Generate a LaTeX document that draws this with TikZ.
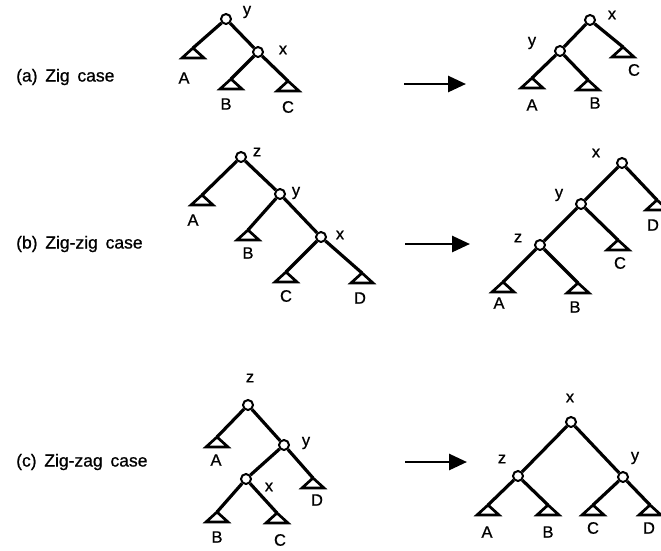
\documentclass[tikz,border=0pt]{standalone}
\usepackage{fontspec}
\setmainfont{Liberation Sans}
\newfontfamily\labfont[AutoFakeBold=0.8]{Liberation Sans}
\usetikzlibrary{arrows.meta}
\tikzset{
  vert/.style={circle,draw,line width=2pt,minimum size=10pt,inner sep=0pt,fill=white},
  edge/.style={line width=3.2pt},
  tri/.style={line width=2.7pt,line join=miter},
  lab/.style={font=\labfont\bfseries\fontsize{16.5}{16.5}\selectfont,inner sep=0pt},
  caselab/.style={font=\labfont\bfseries\fontsize{17.5}{17.5}\selectfont,anchor=west,inner sep=0pt},
  bigarrow/.style={line width=2.8pt,-{Triangle[length=18pt,width=16pt]}}
}
\newcommand{\subtree}[3]{% name, x, y
  \coordinate (#1) at (#2,#3);
  \draw[tri] (#1) -- ++(-11,10) -- ++(22,0) -- cycle;}
\begin{document}
\begin{tikzpicture}[x=1pt,y=-1pt]
\useasboundingbox (0,0) rectangle (661,550);
% ---------- (a) ----------
\node[caselab] (la) at (16,77) {(a)\, Zig\, case};
\subtree{aA}{193}{48}\subtree{aB}{231}{79}\subtree{aC}{288}{81}
\node[vert] (ay) at (226,19) {};
\node[vert] (ax) at (258,52) {};
\draw[edge] (ay) -- (aA); \draw[edge] (ay) -- (ax);
\draw[edge] (ax) -- (aB); \draw[edge] (ax) -- (aC);
\node[lab] (tay) at (247,12) {y};
\node[lab] (tax) at (283,50) {x};
\node[lab] (taA) at (184,78) {A};
\node[lab] (taB) at (226,104) {B};
\node[lab] (taC) at (288,107) {C};
\coordinate (aa1) at (404,84); \coordinate (aa2) at (466,84);
\draw[bigarrow] (aa1) -- (aa2);
\subtree{rA}{532}{78}\subtree{rB}{588}{80}\subtree{rC}{623}{47}
\node[vert] (rx) at (590,20) {};
\node[vert] (ry) at (560,51) {};
\draw[edge] (rx) -- (ry); \draw[edge] (rx) -- (rC);
\draw[edge] (ry) -- (rA); \draw[edge] (ry) -- (rB);
\node[lab] (trx) at (612,15) {x};
\node[lab] (try) at (532,43) {y};
\node[lab] (trA) at (532,105) {A};
\node[lab] (trB) at (595,103) {B};
\node[lab] (trC) at (634,70) {C};
% ---------- (b) ----------
\node[caselab] (lb) at (16,244) {(b)\, Zig-zig\, case};
\subtree{bA}{202}{195}\subtree{bB}{248}{230}\subtree{bC}{286}{272}\subtree{bD}{362}{273}
\node[vert] (bz) at (241,157) {};
\node[vert] (by) at (280,194) {};
\node[vert] (bx) at (321,237) {};
\draw[edge] (bz) -- (bA); \draw[edge] (bz) -- (by);
\draw[edge] (by) -- (bB); \draw[edge] (by) -- (bx);
\draw[edge] (bx) -- (bC); \draw[edge] (bx) -- (bD);
\node[lab] (tbz) at (257,152) {z};
\node[lab] (tby) at (296,193) {y};
\node[lab] (tbx) at (340,235) {x};
\node[lab] (tbA) at (193,220) {A};
\node[lab] (tbB) at (248,253) {B};
\node[lab] (tbC) at (286,296) {C};
\node[lab] (tbD) at (360,298) {D};
\coordinate (ba1) at (405,244); \coordinate (ba2) at (470,244);
\draw[bigarrow] (ba1) -- (ba2);
\subtree{sA}{503}{282}\subtree{sB}{578}{283}\subtree{sC}{618}{240}\subtree{sD}{657}{200}
\node[vert] (sx) at (622,163) {};
\node[vert] (sy) at (581,204) {};
\node[vert] (sz) at (540,245) {};
\draw[edge] (sx) -- (sy); \draw[edge] (sx) -- (sD);
\draw[edge] (sy) -- (sz); \draw[edge] (sy) -- (sC);
\draw[edge] (sz) -- (sA); \draw[edge] (sz) -- (sB);
\node[lab] (tsx) at (596,153) {x};
\node[lab] (tsy) at (559,195) {y};
\node[lab] (tsz) at (518,238) {z};
\node[lab] (tsA) at (499,303) {A};
\node[lab] (tsB) at (575,307) {B};
\node[lab] (tsC) at (620,263) {C};
\node[lab] (tsD) at (653,225) {D};
% ---------- (c) ----------
\node[caselab] (lc) at (16,462) {(c)\, Zig-zag\, case};
\subtree{cA}{217}{437}\subtree{cB}{217}{512}\subtree{cC}{277}{513}\subtree{cD}{313}{478}
\node[vert] (cz) at (248,405) {};
\node[vert] (cy) at (284,445) {};
\node[vert] (cx) at (246,479) {};
\draw[edge] (cz) -- (cA); \draw[edge] (cz) -- (cy);
\draw[edge] (cy) -- (cx); \draw[edge] (cy) -- (cD);
\draw[edge] (cx) -- (cB); \draw[edge] (cx) -- (cC);
\node[lab] (tcz) at (250,378) {z};
\node[lab] (tcy) at (306,443) {y};
\node[lab] (tcx) at (269,487) {x};
\node[lab] (tcA) at (216,460) {A};
\node[lab] (tcB) at (217,537) {B};
\node[lab] (tcC) at (280,540) {C};
\node[lab] (tcD) at (317,500) {D};
\coordinate (ca1) at (405,462); \coordinate (ca2) at (467,462);
\draw[bigarrow] (ca1) -- (ca2);
\subtree{uA}{488}{505}\subtree{uB}{548}{505}\subtree{uC}{593}{505}\subtree{uD}{650}{505}
\node[vert] (ux) at (571,422) {};
\node[vert] (uz) at (518,476) {};
\node[vert] (uy) at (623,477) {};
\draw[edge] (ux) -- (uz); \draw[edge] (ux) -- (uy);
\draw[edge] (uz) -- (uA); \draw[edge] (uz) -- (uB);
\draw[edge] (uy) -- (uC); \draw[edge] (uy) -- (uD);
\node[lab] (tux) at (570,398) {x};
\node[lab] (tuz) at (502,459) {z};
\node[lab] (tuy) at (635,458) {y};
\node[lab] (tuA) at (487,532) {A};
\node[lab] (tuB) at (548,532) {B};
\node[lab] (tuC) at (593,528) {C};
\node[lab] (tuD) at (649,528) {D};
\end{tikzpicture}
\end{document}
